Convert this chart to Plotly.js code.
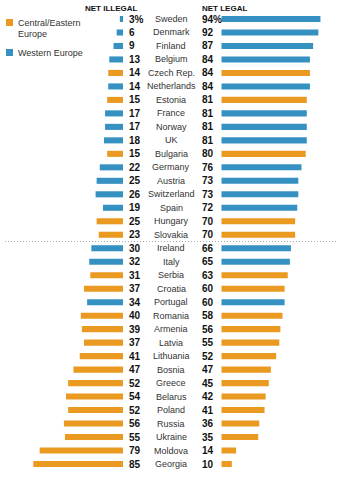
<!DOCTYPE html>
<html>
<head>
<meta charset="utf-8">
<script src="https://cdn.plot.ly/plotly-3.0.1.min.js"></script>
<style>html,body{margin:0;padding:0;background:#fff;}#chart{width:343px;height:493px;}</style>
</head>
<body>
<div id="chart"></div>
<script>
const countries = ["Sweden","Denmark","Finland","Belgium","Czech Rep.","Netherlands","Estonia","France","Norway","UK","Bulgaria","Germany","Austria","Switzerland","Spain","Hungary","Slovakia","Ireland","Italy","Serbia","Croatia","Portugal","Romania","Armenia","Latvia","Lithuania","Bosnia","Greece","Belarus","Poland","Russia","Ukraine","Moldova","Georgia"];
const netIllegal = [3,6,9,13,14,14,15,17,17,18,15,22,25,26,19,25,23,30,32,31,37,34,40,39,37,41,47,52,54,52,56,55,79,85];
const netLegal = [94,92,87,84,84,84,81,81,81,81,80,76,73,73,72,70,70,66,65,63,60,60,58,56,55,52,47,45,42,41,36,35,14,10];
const region = ["W","W","W","W","E","W","E","W","W","W","E","W","W","W","W","E","E","W","W","E","E","W","E","E","E","E","E","E","E","E","E","E","E","E"];
const legendLines = [["Central/Eastern","Europe"],["Western Europe"]];
const headers = ["NET ILLEGAL","NET LEGAL"];

const W = 343, H = 493;
const BLUE = "rgb(54,145,195)", ORANGE = "rgb(234,153,33)";
const colors = region.map(r => r === "E" ? ORANGE : BLUE);
const FONT = "'Liberation Sans', Arial, sans-serif";
const px = v => v / W;
const py = v => 1 - v / H;

const traces = [
  {type:"bar", orientation:"h", y:countries, x:netIllegal, xaxis:"x", yaxis:"y",
   marker:{color:colors}, width:0.45, hoverinfo:"skip"},
  {type:"bar", orientation:"h", y:countries, x:netLegal, xaxis:"x2", yaxis:"y",
   marker:{color:colors}, width:0.45, hoverinfo:"skip"}
];

const scale = 1.055;
const annotations = [];
countries.forEach((c, i) => {
  annotations.push({xref:"paper", yref:"y", x:px(171), y:c, text:c, showarrow:false,
    xanchor:"center", yanchor:"middle", font:{family:FONT, size:9, color:"#333"}});
  annotations.push({xref:"paper", yref:"y", x:px(127), y:c, text:netIllegal[i] + (i===0?"%":""), showarrow:false,
    xanchor:"left", yanchor:"middle", font:{family:FONT, size:10, color:"#111", weight:"bold"}});
  annotations.push({xref:"paper", yref:"y", x:px(200), y:c, text:netLegal[i] + (i===0?"%":""), showarrow:false,
    xanchor:"left", yanchor:"middle", font:{family:FONT, size:10, color:"#111", weight:"bold"}});
});
annotations.push({xref:"paper", yref:"paper", x:px(140), y:py(8), text:"<b>"+headers[0]+"</b>", showarrow:false,
  xanchor:"right", yanchor:"middle", font:{family:FONT, size:8, color:"#111"}});
annotations.push({xref:"paper", yref:"paper", x:px(200), y:py(8), text:"<b>"+headers[1]+"</b>", showarrow:false,
  xanchor:"left", yanchor:"middle", font:{family:FONT, size:8, color:"#111"}});
const legendY = [[23, 34], [53]];
legendLines.forEach((lines, g) => lines.forEach((t, k) => {
  annotations.push({xref:"paper", yref:"paper", x:px(16), y:py(legendY[g][k]), text:t, showarrow:false,
    xanchor:"left", yanchor:"middle", font:{family:FONT, size:9, color:"#333"}});
}));

const shapes = [
  {type:"rect", xref:"paper", yref:"paper", x0:px(6), x1:px(13), y0:py(19), y1:py(26), fillcolor:ORANGE, line:{width:0}},
  {type:"rect", xref:"paper", yref:"paper", x0:px(6), x1:px(13), y0:py(49), y1:py(56), fillcolor:BLUE, line:{width:0}},
  {type:"line", xref:"paper", yref:"y", x0:px(5), x1:px(337), y0:16.5, y1:16.5, line:{color:"#aaa", width:1, dash:"1px,2px"}}
];

const layout = {
  width:W, height:H, margin:{l:0,r:0,t:0,b:0},
  paper_bgcolor:"#fff", plot_bgcolor:"rgba(0,0,0,0)",
  showlegend:false, barmode:"overlay",
  xaxis:{domain:[0, px(123)], range:[123/scale, 0], visible:false, fixedrange:true},
  xaxis2:{domain:[px(221.3), 1], range:[0, (W-221.3)/scale], visible:false, fixedrange:true},
  yaxis:{type:"category", range:[33 + 29/13.485, -19/13.485], visible:false, fixedrange:true},
  annotations, shapes
};

Plotly.newPlot("chart", traces, layout, {staticPlot:true, displayModeBar:false});
</script>
</body>
</html>
